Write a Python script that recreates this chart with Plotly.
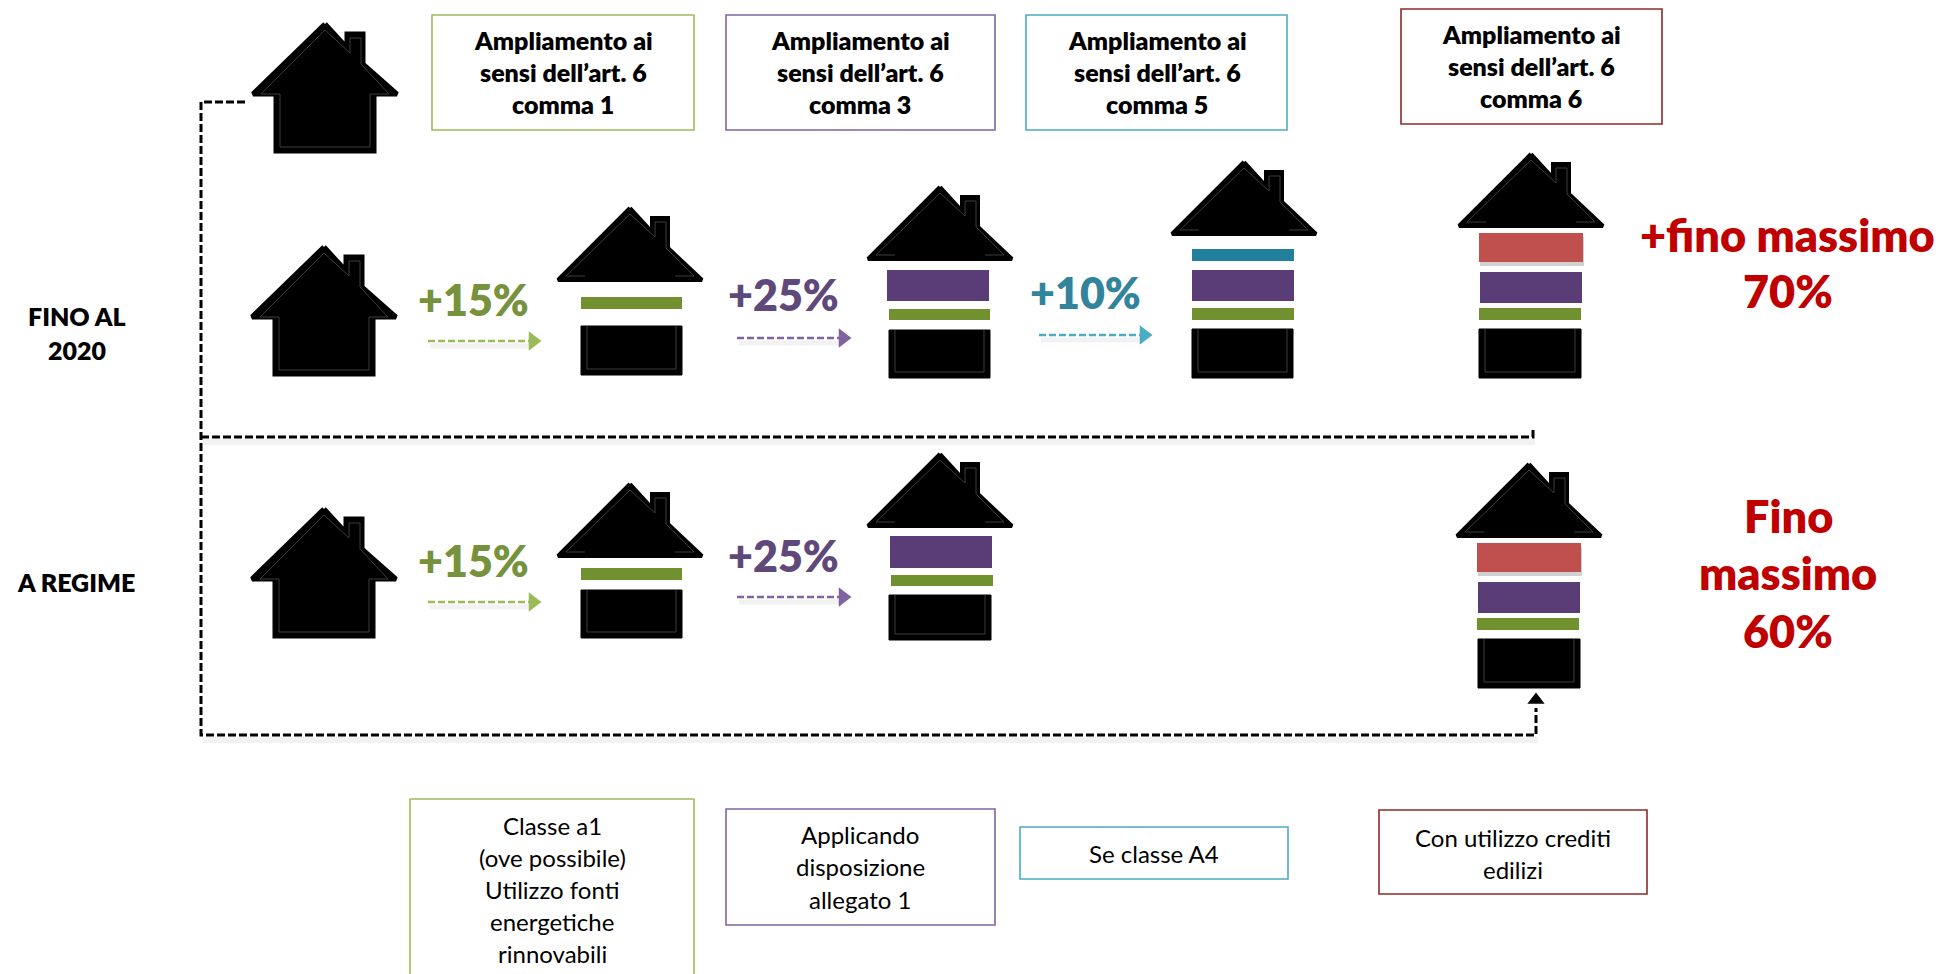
import plotly.graph_objects as go

FONT = "Lato"
BLACK = "#000000"
GREEN_LINE, PURPLE_LINE, TEAL_LINE, BROWN_LINE = "#9BBB59", "#8064A2", "#4BACC6", "#8E2A2A"
GREEN_BAR, PURPLE_BAR, TEAL_BAR, RED_BAR = "#71902F", "#5A3C76", "#22809C", "#C0504D"
GREEN_TXT, PURPLE_TXT, TEAL_TXT, RED_TXT = "#76923C", "#5F497A", "#31849B", "#C00000"

# house outline, relative to the apex
house_dx = [0, 22, 22, 38, 38, 72, 49, 49, -49, -49, -72, 0]
house_dy = [2, 26, 12, 12, 42, 72, 72, 129, 129, 72, 72, 2]
inner_dx = [0, 25, 25, 36, 36, 64, 45, 45, -45, -45, -64, 0]
inner_dy = [8, 31, 16, 16, 42, 72, 72, 125, 125, 72, 72, 8]
roof_dx = [0, 22, 22, 38, 38, 72, -72, 0]
roof_dy = [2, 26, 12, 12, 42, 74, 74, 2]
roof_in_dx = [-45, -64, 0, 25, 25, 36, 36, 64, 45]
roof_in_dy = [70, 70, 8, 31, 16, 16, 42, 70, 70]

# whole houses: apex x, apex y
whole_x = [325, 324, 324]
whole_y = [22, 245, 507]

# split houses: apex x, apex y, body left, right, top, bottom
split_x = [630, 940, 1244, 1531, 1529, 630, 940]
split_y = [206, 185, 160, 152, 462, 482, 452]
body_x0 = [581, 889, 1192, 1479, 1478, 581, 889]
body_x1 = [682, 990, 1293, 1581, 1580, 682, 991]
body_y0 = [326, 330, 329, 329, 639, 590, 595]
body_y1 = [375, 378, 378, 378, 688, 638, 640]

# bars between roof and body
bar_x0 = [581, 887, 889, 1192, 1192, 1192, 1480, 1479, 1478, 1477, 581, 890, 891]
bar_x1 = [682, 989, 990, 1294, 1294, 1294, 1582, 1581, 1580, 1579, 682, 992, 993]
bar_y0 = [297, 270, 309, 249, 270, 308, 272, 308, 582, 618, 568, 536, 575]
bar_y1 = [309, 301, 320, 261, 301, 320, 303, 320, 613, 630, 580, 568, 586]
bar_col = [GREEN_BAR, PURPLE_BAR, GREEN_BAR, TEAL_BAR, PURPLE_BAR, GREEN_BAR, PURPLE_BAR,
           GREEN_BAR, PURPLE_BAR, GREEN_BAR, GREEN_BAR, PURPLE_BAR, GREEN_BAR]
red_x0 = [1479, 1477]
red_x1 = [1583, 1581]
red_y0 = [233, 543]
red_y1 = [262, 572]

# dashed connectors
path_x = [245, 201, 201, 1536, 1536]
path_y = [102, 102, 735, 735, 708]
branch_x = [201, 1533, 1533]
branch_y = [437, 437, 429]

# percentage arrows
arrow_x0 = [428, 737, 1039, 428, 737]
arrow_x1 = [530, 840, 1141, 530, 840]
arrow_y = [341, 338, 335, 602, 597]
arrow_col = [GREEN_LINE, PURPLE_LINE, TEAL_LINE, GREEN_LINE, PURPLE_LINE]

# boxes
box_x0 = [432, 726, 1026, 1401, 410, 726, 1020, 1379]
box_x1 = [694, 995, 1287, 1662, 694, 995, 1288, 1647]
box_y0 = [15, 15, 15, 9, 799, 809, 827, 810]
box_y1 = [130, 130, 130, 124, 990, 925, 879, 894]
box_col = [GREEN_LINE, PURPLE_LINE, TEAL_LINE, BROWN_LINE, GREEN_LINE, PURPLE_LINE, TEAL_LINE, BROWN_LINE]

# text lines
head_lines = ["Ampliamento ai", "sensi dell’art. 6", "comma 1",
              "Ampliamento ai", "sensi dell’art. 6", "comma 3",
              "Ampliamento ai", "sensi dell’art. 6", "comma 5",
              "Ampliamento ai", "sensi dell’art. 6", "comma 6",
              "FINO AL", "2020", "A REGIME"]
head_x = [563] * 3 + [860] * 3 + [1157] * 3 + [1531] * 3 + [77, 77, 76]
head_y = [40, 72, 104, 40, 72, 104, 40, 72, 104, 34, 66, 98, 316, 350, 582]

note_lines = ["Classe a1", "(ove possibile)", "Utilizzo fonti", "energetiche", "rinnovabili",
              "Applicando", "disposizione", "allegato 1", "Se classe A4",
              "Con utilizzo crediti", "edilizi"]
note_x = [552] * 5 + [860] * 3 + [1154] + [1513] * 2
note_y = [825, 857, 889, 921, 953, 834, 866, 899, 853, 837, 869]

pct_labels = ["+15%", "+25%", "+10%", "+15%", "+25%"]
pct_x = [473, 783, 1085, 473, 783]
pct_y = [299, 294, 292, 560, 555]
pct_col = [GREEN_TXT, PURPLE_TXT, TEAL_TXT, GREEN_TXT, PURPLE_TXT]

total_lines = ["+fino massimo", "70%", "Fino", "massimo", "60%"]
total_x = [1787, 1788, 1788, 1788, 1788]
total_y = [235, 291, 516, 573, 631]

fig = go.Figure()


def add_line(x, y, color, width=1.0, dash="solid", fill=False):
    fig.add_trace(go.Scatter(x=x, y=y, mode="lines", hoverinfo="skip", showlegend=False,
                             fill="toself" if fill else None,
                             fillcolor=color if fill else None,
                             line=dict(color=color, width=width, dash=dash, shape="linear")))


def add_rect(x0, x1, y0, y1, color, line_width=0, fill=None):
    fig.add_shape(type="rect", x0=x0, x1=x1, y0=y0, y1=y1, layer="above",
                  fillcolor=fill, line=dict(color=color, width=line_width))


def add_text(text, x, y, size, color=BLACK, weight=400):
    fig.add_annotation(x=x, y=y, text=text, showarrow=False,
                       xanchor="center", yanchor="middle",
                       font=dict(family=FONT, size=size, color=color, weight=weight))


# soft shadows first
shadow = "rgba(0,0,0,0.05)"
add_line([p + 2 for p in path_x[2:4]], [p + 5 for p in path_y[2:4]], shadow, 6)
add_line([p + 2 for p in branch_x[:2]], [p + 5 for p in branch_y[:2]], shadow, 6)
for x0, x1, y in zip(arrow_x0, arrow_x1, arrow_y):
    add_line([x0 + 2, x1], [y + 5, y + 5], shadow, 5)

for cx, top in zip(whole_x, whole_y):
    add_line([cx + d for d in house_dx], [top + d for d in house_dy], BLACK, 5, fill=True)
    add_line([cx + d for d in inner_dx], [top + d for d in inner_dy], "#3C3C3C", 1)

for i, cx in enumerate(split_x):
    top = split_y[i]
    add_line([cx + d for d in roof_dx], [top + d for d in roof_dy], BLACK, 4, fill=True)
    add_line([cx + d for d in roof_in_dx], [top + d for d in roof_in_dy], "#3C3C3C", 1)
    xs = [body_x0[i], body_x1[i], body_x1[i], body_x0[i], body_x0[i]]
    ys = [body_y0[i], body_y0[i], body_y1[i], body_y1[i], body_y0[i]]
    add_line(xs, ys, BLACK, 1, fill=True)
    add_line([body_x0[i] + 6, body_x0[i] + 6, body_x1[i] - 6, body_x1[i] - 6],
             [body_y0[i], body_y1[i] - 6, body_y1[i] - 6, body_y0[i]], "#3C3C3C", 1)

for x0, x1, y0, y1, c in zip(bar_x0, bar_x1, bar_y0, bar_y1, bar_col):
    add_rect(x0, x1, y0, y1, c, 0, c)
for x0, x1, y0, y1 in zip(red_x0, red_x1, red_y0, red_y1):
    add_rect(x0 + 1, x1 + 1, y0 + 4, y1 + 4, "rgba(0,0,0,0)", 0, "rgba(0,0,0,0.18)")
    add_rect(x0, x1, y0, y1, RED_BAR, 0, RED_BAR)

add_line(path_x, path_y, BLACK, 3, "8px,3px")
add_line(branch_x, branch_y, BLACK, 3, "8px,3px")
fig.add_trace(go.Scatter(x=[path_x[-1]], y=[path_y[-1] - 8], mode="markers", hoverinfo="skip",
                         showlegend=False,
                         marker=dict(symbol="triangle-up", size=15, color=BLACK)))

for x0, x1, y, c in zip(arrow_x0, arrow_x1, arrow_y, arrow_col):
    add_line([x0, x1], [y, y], c, 2.5, "7px,3px")
    fig.add_trace(go.Scatter(x=[x1 + 3], y=[y], mode="markers", hoverinfo="skip", showlegend=False,
                             marker=dict(symbol="triangle-right", size=17, color=c)))

for x0, x1, y0, y1, c in zip(box_x0, box_x1, box_y0, box_y1, box_col):
    add_rect(x0, x1, y0, y1, c, 1.6)

for t, x, y in zip(head_lines, head_x, head_y):
    add_text(t, x, y, 25, weight=800)
for t, x, y in zip(note_lines, note_x, note_y):
    add_text(t, x, y, 24)
for t, x, y, c in zip(pct_labels, pct_x, pct_y, pct_col):
    add_text(t, x, y, 43, c, 800)
for t, x, y in zip(total_lines, total_x, total_y):
    add_text(t, x, y, 45, RED_TXT, 800)

fig.update_layout(width=1946, height=974, margin=dict(l=0, r=0, t=0, b=0),
                  paper_bgcolor="white", plot_bgcolor="white",
                  xaxis=dict(range=[0, 1946], visible=False, fixedrange=True),
                  yaxis=dict(range=[974, 0], visible=False, fixedrange=True))

fig.write_html("out.html", config={"displayModeBar": False},
               post_script="document.body.style.margin='0';")
